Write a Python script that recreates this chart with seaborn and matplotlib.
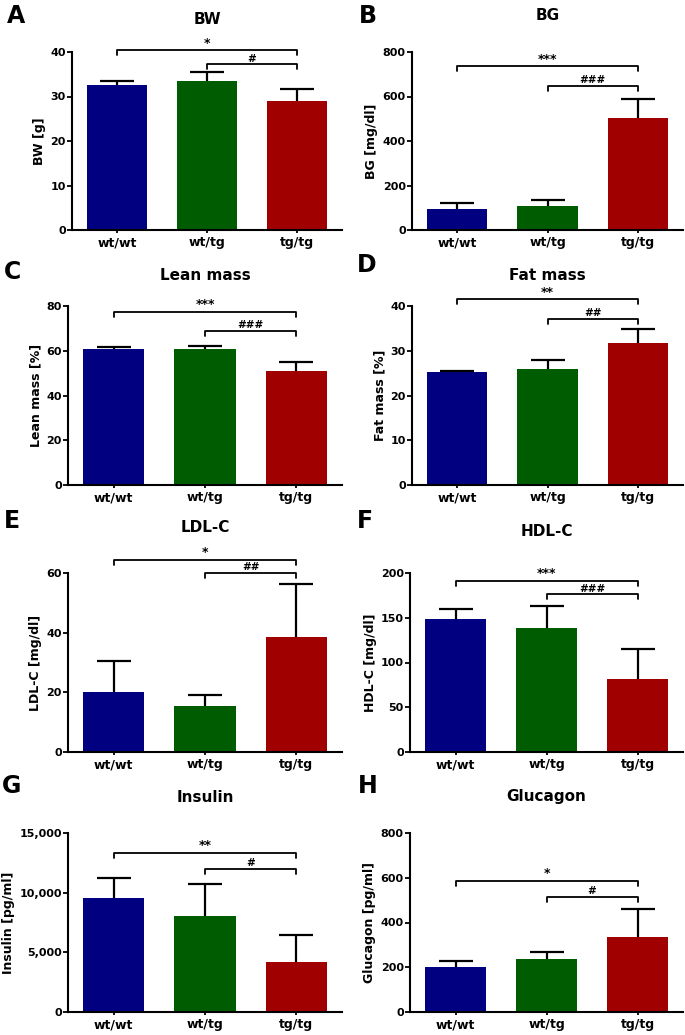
import numpy as np
import pandas as pd
import matplotlib
matplotlib.use('Agg')
import matplotlib.pyplot as plt
import seaborn as sns
from matplotlib.ticker import FuncFormatter

sns.set_style('ticks')
plt.rcParams['font.family'] = ['DejaVu Sans']
plt.rcParams['font.weight'] = 'bold'
plt.rcParams['text.color'] = 'black'
plt.rcParams['axes.labelcolor'] = 'black'
plt.rcParams['xtick.color'] = 'black'
plt.rcParams['ytick.color'] = 'black'

groups = ['wt/wt', 'wt/tg', 'tg/tg']
colors = ['#000080', '#005c00', '#a00000']

# mean and upper error (SEM)
bw_mean = [32.6, 33.4, 29.0]
bw_err = [0.8, 2.0, 2.6]
bg_mean = [94, 109, 504]
bg_err = [29, 28, 83]
lean_mean = [61.0, 60.7, 50.8]
lean_err = [0.6, 1.5, 4.1]
fat_mean = [25.2, 26.0, 31.8]
fat_err = [0.3, 1.9, 3.1]
ldl_mean = [20.0, 15.4, 38.5]
ldl_err = [10.4, 3.6, 17.9]
hdl_mean = [149, 139, 82]
hdl_err = [11, 24, 33]
ins_mean = [9525, 8017, 4162]
ins_err = [1675, 2709, 2318]
glu_mean = [201, 237, 337]
glu_err = [27, 31, 125]

titles = ['BW', 'BG', 'Lean mass', 'Fat mass', 'LDL-C', 'HDL-C', 'Insulin', 'Glucagon']
letters = ['A', 'B', 'C', 'D', 'E', 'F', 'G', 'H']
ylabels = ['BW [g]', 'BG [mg/dl]', 'Lean mass [%]', 'Fat mass [%]',
           'LDL-C [mg/dl]', 'HDL-C [mg/dl]', 'Insulin [pg/ml]', 'Glucagon [pg/ml]']
yticks = [[0, 10, 20, 30, 40], [0, 200, 400, 600, 800], [0, 20, 40, 60, 80],
          [0, 10, 20, 30, 40], [0, 20, 40, 60], [0, 50, 100, 150, 200],
          [0, 5000, 10000, 15000], [0, 200, 400, 600, 800]]
means = [bw_mean, bg_mean, lean_mean, fat_mean, ldl_mean, hdl_mean, ins_mean, glu_mean]
errs = [bw_err, bg_err, lean_err, fat_err, ldl_err, hdl_err, ins_err, glu_err]

# significance brackets: wt/wt vs tg/tg (stars), wt/tg vs tg/tg (hashes)
star_lab = ['*', '***', '***', '**', '*', '***', '**', '*']
star_y = [40.4, 735, 77.4, 41.5, 64.3, 191, 13324, 586]
hash_lab = ['#', '###', '###', '##', '##', '###', '#', '#']
hash_y = [37.2, 647, 68.8, 37.2, 60.0, 176, 11983, 514]

W, H = 685, 1035
fig = plt.figure(figsize=(W / 100, H / 100), dpi=100)

rows = [(52, 230), (306, 485), (573, 752), (833, 1012)]
col_left = [[72, 412], [68, 412], [68, 410], [68, 410]]
col_right = [342, 683]
xlim = (-0.5, 2.5)
title_y = [[20, 16], [275, 275], [527, 532], [797, 797]]
letter_pos = [[(16, 16), (368, 16)], [(12, 272), (367, 265)],
              [(12, 521), (365, 521)], [(12, 786), (368, 786)]]

for i in range(8):
    r, c = divmod(i, 2)
    top, bot = rows[r]
    left, right = col_left[r][c], col_right[c]
    ax = fig.add_axes([left / W, 1 - bot / H, (right - left) / W, (bot - top) / H])
    df = pd.DataFrame({'group': groups, 'value': means[i]})
    sns.barplot(data=df, x='group', y='value', hue='group', palette=colors,
                order=groups, width=0.67, errorbar=None, legend=False, ax=ax,
                saturation=1, edgecolor='none')
    eb = ax.errorbar(range(3), means[i], yerr=[np.zeros(3), errs[i]], fmt='none',
                     ecolor='black', elinewidth=1.6, capsize=12, capthick=1.6, zorder=5)
    # upper-only error bars: drop the lower caps sitting on the bar tops
    eb[1][0].remove()
    ymax = yticks[i][-1]
    ax.set_ylim(0, ymax)
    ax.set_xlim(*xlim)
    ax.set_yticks(yticks[i])
    if i == 6:
        ax.yaxis.set_major_formatter(FuncFormatter(lambda v, p: f'{int(v):,}'))
    sns.despine(ax=ax)
    for s in ['left', 'bottom']:
        ax.spines[s].set_linewidth(1.5)
        ax.spines[s].set_color('black')
    ax.tick_params(axis='y', length=3.5, width=1.3, labelsize=8, pad=1)
    ax.tick_params(axis='x', length=2.5, width=1.3, labelsize=9, pad=2)
    for lab in ax.get_xticklabels() + ax.get_yticklabels():
        lab.set_fontweight('bold')
    ax.set_xlabel('')
    ax.set_ylabel(ylabels[i], fontsize=9, fontweight='bold', labelpad=3)

    d = 0.028 * ymax
    for (x0, lab, yb, fs) in [(0, star_lab[i], star_y[i], 9), (1, hash_lab[i], hash_y[i], 7.5)]:
        ax.plot([x0, x0, 2, 2], [yb - d, yb, yb, yb - d], color='black', lw=1.3,
                clip_on=False, zorder=6)
        ax.annotate(lab, xy=((x0 + 2) / 2, yb), xytext=(0, 0.5), textcoords='offset points',
                    ha='center', va='bottom', fontsize=fs, fontweight='bold',
                    annotation_clip=False)

    # title centred over the bars
    bar_center = left + (1 - xlim[0]) / (xlim[1] - xlim[0]) * (right - left)
    fig.text(bar_center / W, 1 - title_y[r][c] / H, titles[i], ha='center', va='center',
             fontsize=11, fontweight='bold')
    lx, ly = letter_pos[r][c]
    fig.text(lx / W, 1 - ly / H, letters[i], ha='center', va='center',
             fontsize=17, fontweight='bold')

fig.savefig('out.png', dpi=100)
